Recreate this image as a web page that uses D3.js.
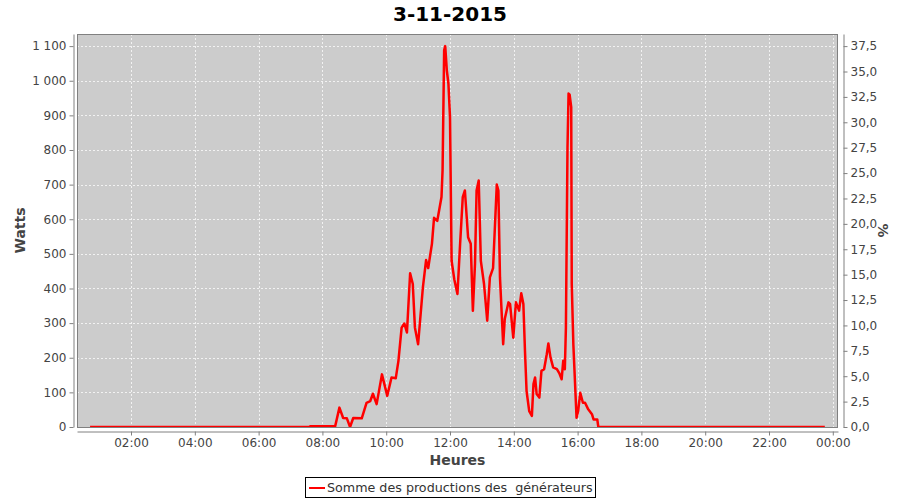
<!DOCTYPE html>
<html><head><meta charset="utf-8">
<script src="https://cdn.jsdelivr.net/npm/d3@7"></script>
<style>body{margin:0;background:#fff} svg{font-family:"DejaVu Sans",sans-serif;display:block}</style>
</head><body><svg id="c" width="900" height="500"></svg>
<script>
// ---- data ----
const times = ["00:43","07:35","07:37","08:24","08:32","08:39","08:46","08:52","08:58","09:14","09:23","09:30","09:35","09:42","09:52","10:02","10:10","10:18","10:23","10:29","10:34","10:39","10:45","10:50","10:54","11:00","11:09","11:15","11:19","11:26","11:30","11:36","11:44","11:46","11:49","11:51","11:54","11:57","12:00","12:03","12:08","12:14","12:19","12:24","12:28","12:34","12:39","12:43","12:47","12:50","12:54","12:58","13:04","13:10","13:15","13:21","13:28","13:31","13:34","13:40","13:43","13:50","13:53","13:59","14:04","14:10","14:14","14:18","14:21","14:24","14:29","14:34","14:37","14:40","14:43","14:48","14:52","14:57","15:02","15:05","15:09","15:14","15:21","15:26","15:30","15:33","15:36","15:38","15:41","15:43","15:45","15:48","15:49","15:52","15:55","15:58","16:01","16:05","16:10","16:14","16:20","16:27","16:30","16:37","16:39","23:45"];
const watts = [0,0,2,2,56,26,25,0,26,25,70,75,96,66,152,90,143,141,191,287,299,273,444,413,287,239,403,482,459,529,604,595,664,741,1088,1100,1030,992,895,480,427,384,529,664,683,548,529,336,471,683,712,480,413,307,432,459,700,683,432,239,312,360,355,258,360,336,386,355,220,104,46,32,124,143,95,85,162,167,210,241,201,172,167,154,138,191,167,287,808,963,960,924,413,239,133,27,46,99,70,70,51,37,22,22,0,0];
const leftTicks = [0,100,200,300,400,500,600,700,800,900,1000,1100];
const rightTicks = [0,2.5,5,7.5,10,12.5,15,17.5,20,22.5,25,27.5,30,32.5,35,37.5];
const hourTickLabels = ["02:00","04:00","06:00","08:00","10:00","12:00","14:00","16:00","18:00","20:00","22:00","00:00"];
const hourTickMinutes = [120,240,360,480,600,720,840,960,1080,1200,1320,1440];
const title = "3-11-2015";
const seriesName = "Somme des productions des  générateurs";

// ---- layout ----
const svg = d3.select("#c");
const P = {l:77, r:838, t:34, b:427};
const toMin = s => { const [h,m] = s.split(":").map(Number); return h*60+m; };
const x = d3.scaleLinear().domain([18.4, 1449.8]).range([P.l, P.r]);
const y = d3.scaleLinear().domain([0, 1135]).range([P.b, P.t]);
const y2 = d3.scaleLinear().domain([0, 1135/1100*37.5]).range([P.b, P.t]);
const fr = d3.formatLocale({decimal:",", thousands:"\u00a0", grouping:[3], currency:["","€"]});

svg.append("rect").attr("width",900).attr("height",500).attr("fill","#fff");
svg.append("text").attr("x",450).attr("y",21).attr("text-anchor","middle")
  .attr("font-size",20).attr("font-weight","bold").attr("fill","#000").text(title);

// plot background
svg.append("rect").attr("x",P.l).attr("y",P.t).attr("width",P.r-P.l).attr("height",P.b-P.t)
  .attr("fill","#cccccc");

// grid
const grid = svg.append("g");
grid.selectAll("line.h").data(leftTicks).join("line")
  .attr("x1",P.l).attr("x2",P.r).attr("y1",d=>Math.round(y(d))+0.5).attr("y2",d=>Math.round(y(d))+0.5)
  .attr("stroke","#f2f2f2").attr("stroke-width",1).attr("stroke-dasharray","2,2");
grid.selectAll("line.v").data(hourTickMinutes).join("line")
  .attr("y1",P.t).attr("y2",P.b).attr("x1",d=>Math.round(x(d))+0.5).attr("x2",d=>Math.round(x(d))+0.5)
  .attr("stroke","#f2f2f2").attr("stroke-width",1).attr("stroke-dasharray","2,2");

// series
svg.append("clipPath").attr("id","clip").append("rect")
  .attr("x",P.l).attr("y",P.t).attr("width",P.r-P.l).attr("height",P.b-P.t);
const pts = times.map((t,i)=>[toMin(t), watts[i]]);
svg.append("path").datum(pts).attr("clip-path","url(#clip)")
  .attr("fill","none").attr("stroke","#ff0000").attr("stroke-width",2.5).attr("stroke-linejoin","round")
  .attr("d", d3.line().x(d=>x(d[0])).y(d=>y(d[1])));

// plot outline
svg.append("rect").attr("x",P.l+0.5).attr("y",P.t+0.5).attr("width",P.r-P.l-1).attr("height",P.b-P.t)
  .attr("fill","none").attr("stroke","#808080").attr("stroke-width",1);

function styleAxis(g){
  g.select(".domain").attr("stroke","#808080");
  g.selectAll(".tick line").attr("stroke","#808080");
  g.selectAll(".tick text").attr("fill","#444").attr("font-size",12).attr("font-family","DejaVu Sans");
}
// left axis
svg.append("g").attr("transform","translate(73.5,0)")
  .call(d3.axisLeft(y).tickValues(leftTicks).tickFormat(fr.format(",d")).tickSize(4).tickSizeOuter(0).tickPadding(3))
  .call(styleAxis);
// right axis
svg.append("g").attr("transform","translate(843.5,0)")
  .call(d3.axisRight(y2).tickValues(rightTicks).tickFormat(fr.format(".1f")).tickSize(4).tickSizeOuter(0).tickPadding(3))
  .call(styleAxis);
// bottom axis
svg.append("g").attr("transform","translate(0,431.5)")
  .call(d3.axisBottom(x).tickValues(hourTickMinutes).tickFormat((d,i)=>hourTickLabels[i]).tickSize(4).tickSizeOuter(0).tickPadding(3))
  .call(styleAxis);

// axis labels
svg.append("text").attr("transform","translate(25,230.5) rotate(-90)").attr("text-anchor","middle")
  .attr("font-size",14).attr("font-weight","bold").attr("fill","#444").text("Watts");
svg.append("text").attr("x",457.5).attr("y",465).attr("text-anchor","middle")
  .attr("font-size",14).attr("font-weight","bold").attr("fill","#444").text("Heures");
svg.append("text").attr("transform","translate(878,230.5) rotate(90)").attr("text-anchor","middle")
  .attr("font-size",14).attr("font-weight","bold").attr("fill","#444").text("%");

// legend
const lg = svg.append("g");
lg.append("rect").attr("x",305.5).attr("y",477.5).attr("width",290).attr("height",20)
  .attr("fill","#fff").attr("stroke","#000");
lg.append("line").attr("x1",309).attr("x2",325).attr("y1",488).attr("y2",488)
  .attr("stroke","#ff0000").attr("stroke-width",2);
lg.append("text").attr("x",327).attr("y",492).attr("font-size",12.7).attr("fill","#333")
  .attr("xml:space","preserve").style("white-space","pre").text(seriesName);
</script></body></html>
